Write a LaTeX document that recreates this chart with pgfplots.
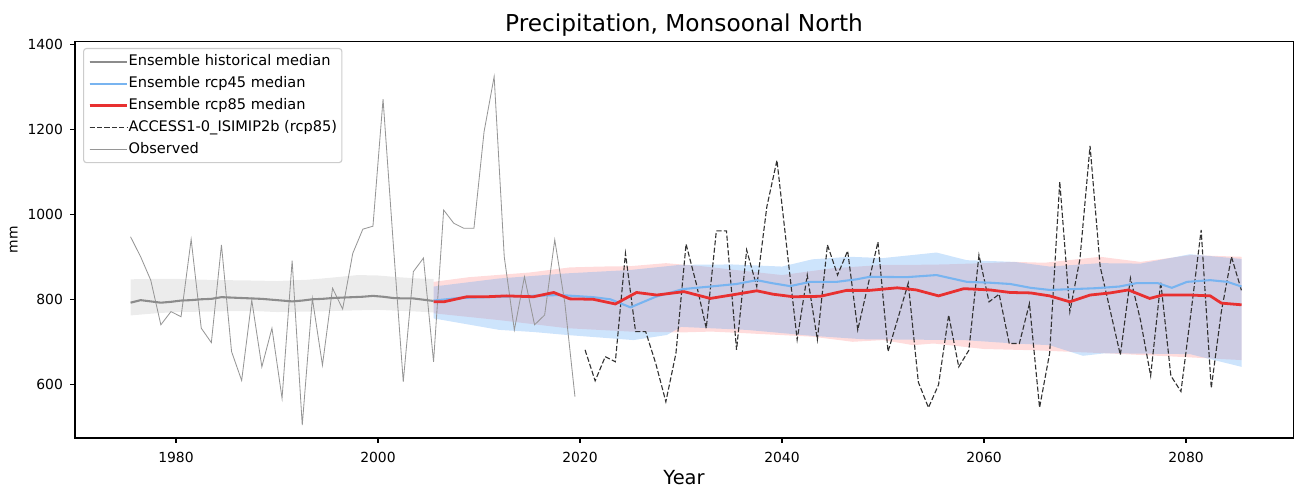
\documentclass[border=0pt]{standalone}
\usepackage{fontspec}
\setmainfont{DejaVu Sans}
\usepackage{pgfplots}
\pgfplotsset{compat=1.18}
\usepgfplotslibrary{fillbetween}

\definecolor{histcol}{RGB}{140,140,140}
\definecolor{r45col}{RGB}{120,180,240}
\definecolor{r85col}{RGB}{232,48,48}
\definecolor{r45band}{RGB}{100,170,245}
\definecolor{r85band}{RGB}{255,80,80}
\definecolor{obscol}{RGB}{150,150,150}
\definecolor{gcmcol}{RGB}{50,50,50}
\definecolor{legframe}{RGB}{204,204,204}

\begin{document}
\begin{tikzpicture}
\begin{axis}[
  at={(54bp,36bp)}, anchor=south west,
  width=877bp, height=285.3bp, scale only axis,
  xmin=1970, xmax=2090.6, ymin=473.6, ymax=1406,
  xtick={1980,2000,...,2080}, ytick={600,800,...,1400},
  xtick pos=left, ytick pos=left, tick align=outside,
  major tick length=3.5bp,
  every tick/.style={black, line width=0.8bp},
  axis line style={line width=0.8bp},
  /pgf/number format/assume math mode=true,
  /pgf/number format/1000 sep={},
  ticklabel style={font=\fontsize{10bp}{12bp}\selectfont, inner sep=0pt},
  xticklabel style={anchor=north, yshift=-6.6bp},
  yticklabel style={anchor=east, xshift=-5bp},
  title={Precipitation, Monsoonal North},
  every axis title/.style={at={(axis description cs:0.5,1)}, anchor=base, yshift=7.2bp,
    inner sep=0pt, font=\fontsize{16.75bp}{20bp}\selectfont},
  xlabel={Year},
  xlabel style={at={(axis description cs:0.5,0)}, anchor=base, yshift=-33.3bp, inner sep=0pt,
    font=\fontsize{14bp}{17bp}\selectfont},
  ylabel={mm},
  ylabel style={at={(axis description cs:-0.0502,0.5)}, anchor=center, inner sep=0pt,
    font=\fontsize{10bp}{12bp}\selectfont},
  legend image code/.code={\draw[#1] (0bp,0bp) -- (21.6bp,0bp); \path (0bp,0bp) -- (27bp,0bp);},
  legend cell align=left,
  legend style={at={(axis description cs:0,1)}, anchor=north west, xshift=5.8bp, yshift=-4.5bp,
    draw=legframe, line width=0.8bp, rounded corners=2bp, fill=white, fill opacity=0.8,
    draw opacity=1, text opacity=1, font=\fontsize{10.5bp}{12.5bp}\selectfont,
    inner xsep=3.4bp, inner ysep=1.8bp, row sep=0bp,
    nodes={inner xsep=0pt, inner ysep=2.7bp, text height=8bp, text depth=2.3bp}},
]

% legend entries
\addlegendimage{histcol, line width=1.5bp}
\addlegendentry{Ensemble historical median}
\addlegendimage{r45col, line width=1.5bp}
\addlegendentry{Ensemble rcp45 median}
\addlegendimage{r85col, line width=2bp}
\addlegendentry{Ensemble rcp85 median}
\addlegendimage{gcmcol, line width=0.8bp, dash pattern=on 3.7bp off 1.6bp}
\addlegendentry{ACCESS1-0\_ISIMIP2b (rcp85)}
\addlegendimage{obscol, line width=0.6bp}
\addlegendentry{Observed}

% historical ensemble spread
\addplot[name path=gu, draw=none, forget plot] coordinates {
(1975.5,847)(1978,848)(1980,848)(1983,846)(1985,845)(1988,844)(1990,843)(1993,846)
(1995,850)(1998,857)(2000,856)(2002,852)(2004,849)(2005.5,848)};
\addplot[name path=gl, draw=none, forget plot] coordinates {
(1975.5,762)(1978,767)(1980,770)(1983,771)(1985,772)(1988,772)(1990,770)(1993,771)
(1995,772)(1998,774)(2000,775)(2002,773)(2004,771)(2005.5,769)};
\addplot[fill=gray, fill opacity=0.15, draw=none, forget plot] fill between[of=gu and gl];

% rcp85 ensemble spread
\addplot[name path=ru, draw=none, forget plot] coordinates {
(2005.5,841)(2009,852)(2015,863)(2019,875)(2022,877)(2025,878)(2028.5,885)(2032,878)
(2035,870)(2040,857)(2045,873)(2050,881)(2053,881)(2056,882)(2060,885)(2063,888)
(2066,886)(2071.5,900)(2075.5,888)(2080.5,904)(2085.5,900)};
\addplot[name path=rl, draw=none, forget plot] coordinates {
(2005.5,767)(2012,751)(2018.7,732)(2025,724)(2030,722)(2033,724)(2036.5,720)(2043,712)
(2047,700)(2050,704)(2053,692)(2055,696)(2060,683)(2065,680)(2072,673)(2079,665)(2085.5,657)};
\addplot[fill=r85band, fill opacity=0.2, draw=none, forget plot] fill between[of=ru and rl];

% rcp45 ensemble spread
\addplot[name path=bu, draw=none, forget plot] coordinates {
(2005.5,830)(2012,849)(2018.7,861)(2025,869)(2029.9,881)(2035,882)(2040,877)(2043,894)
(2046.7,900)(2050,897)(2055.3,910)(2058.3,892)(2063,888)(2066.5,877)(2071.5,885)
(2075.5,884)(2080.4,906)(2085.5,895)};
\addplot[name path=bl, draw=none, forget plot] coordinates {
(2005.5,755)(2012,728)(2015.4,723)(2018.7,716)(2025.3,704)(2028.6,716)(2030,735)
(2036.5,728)(2043,714)(2048,706)(2053,705)(2058,704)(2063,696)(2066.5,692)(2069.8,667)
(2072,673)(2080.4,671)(2085.5,641)};
\addplot[fill=r45band, fill opacity=0.32, draw=none, forget plot] fill between[of=bu and bl];

% observed
\addplot[obscol, line width=0.6bp, forget plot] coordinates {
(1975.5,947)(1976.5,900)(1977.5,845)(1978.5,740)(1979.5,771)(1980.5,759)(1981.5,941)
(1982.5,732)(1983.5,698)(1984.5,928)(1985.5,677)(1986.5,609)(1987.5,798)(1988.5,641)
(1989.5,732)(1990.5,567)(1991.5,891)(1992.5,504)(1993.5,802)(1994.5,645)(1995.5,826)
(1996.5,777)(1997.5,908)(1998.5,965)(1999.5,972)(2000.5,1271)(2001.5,935)(2002.5,606)
(2003.5,865)(2004.5,897)(2005.5,653)(2006.5,1010)(2007.5,979)(2008.5,967)(2009.5,967)
(2010.5,1194)(2011.5,1324)(2012.5,900)(2013.5,728)(2014.5,853)(2015.5,740)(2016.5,763)
(2017.5,940)(2018.5,791)(2019.5,571)};

% single model, rcp85
\addplot[gcmcol, line width=0.8bp, dash pattern=on 3.7bp off 1.6bp, forget plot] coordinates {
(2020.5,681)(2021.5,608)(2022.5,665)(2023.5,653)(2024.5,908)(2025.5,724)(2026.5,724)
(2027.5,649)(2028.5,559)(2029.5,673)(2030.5,930)(2031.5,838)(2032.5,732)(2033.5,961)
(2034.5,961)(2035.5,681)(2036.5,916)(2037.5,830)(2038.5,1018)(2039.5,1127)(2040.5,916)
(2041.5,705)(2042.5,857)(2043.5,705)(2044.5,928)(2045.5,857)(2046.5,914)(2047.5,728)
(2048.5,832)(2049.5,935)(2050.5,677)(2051.5,757)(2052.5,838)(2053.5,605)(2054.5,545)
(2055.5,599)(2056.5,763)(2057.5,641)(2058.5,680)(2059.5,904)(2060.5,794)(2061.5,812)
(2062.5,696)(2063.5,696)(2064.5,790)(2065.5,545)(2066.5,673)(2067.5,1077)(2068.5,771)
(2069.5,895)(2070.5,1161)(2071.5,877)(2072.5,773)(2073.5,669)(2074.5,850)(2075.5,750)
(2076.5,620)(2077.5,841)(2078.5,620)(2079.5,583)(2080.5,770)(2081.5,963)(2082.5,591)
(2083.5,771)(2084.5,900)(2085.5,820)};

% ensemble medians
\addplot[histcol, line width=1.5bp, forget plot] coordinates {
(1975.5,792)(1976.5,798)(1977.5,795)(1978.5,792)(1979.5,794)(1980.5,797)(1981.5,798)
(1982.5,800)(1983.5,801)(1984.5,805)(1985.5,804)(1986.5,803)(1987.5,802)(1988.5,801)
(1989.5,799)(1990.5,797)(1991.5,795)(1992.5,797)(1993.5,800)(1994.5,801)(1995.5,803)
(1996.5,804)(1997.5,805)(1998.5,806)(1999.5,808)(2000.5,806)(2001.5,803)(2002.5,802)
(2003.5,802)(2004.5,799)(2005.5,796)};
\addplot[r45col, line width=1.5bp, forget plot] coordinates {
(2005.5,797)(2008,803)(2012,806)(2015,808)(2018,810)(2021.3,805)(2023,800)(2025,781)
(2027.5,806)(2030.2,824)(2032.9,830)(2035.5,836)(2037.5,845)(2039,838)(2040.8,831)
(2042.8,841)(2045.4,841)(2047.4,847)(2048.7,853)(2052.3,852)(2055.3,857)(2058.3,841)
(2060.6,839)(2062.6,836)(2064.6,827)(2066.5,822)(2068.8,824)(2071,826)(2073.4,830)
(2075.1,838)(2077.2,838)(2078.6,827)(2080.1,841)(2082.4,845)(2084.1,841)(2085.5,830)};
\addplot[r85col, line width=2bp, forget plot] coordinates {
(2005.5,794)(2006.5,794)(2008.8,806)(2010.8,806)(2012.7,808)(2015.4,806)(2017.4,816)
(2019.0,801)(2021.3,800)(2023.5,789)(2025.6,816)(2027.6,810)(2030.3,818)(2032.9,802)
(2035.5,812)(2037.5,820)(2039.1,812)(2041.1,806)(2043.8,807)(2046.4,821)(2048.7,821)
(2051.4,827)(2053.3,822)(2055.5,808)(2058.0,825)(2060.6,822)(2062.6,816)(2064.6,815)
(2066.5,808)(2068.5,794)(2070.5,810)(2072.5,815)(2074.3,822)(2076.4,802)(2077.7,810)
(2080.4,810)(2082.4,808)(2083.5,791)(2085.5,787)};

\end{axis}
\pgfresetboundingbox
\path (0,0) rectangle (933.12bp,351.36bp);
\end{tikzpicture}
\end{document}
